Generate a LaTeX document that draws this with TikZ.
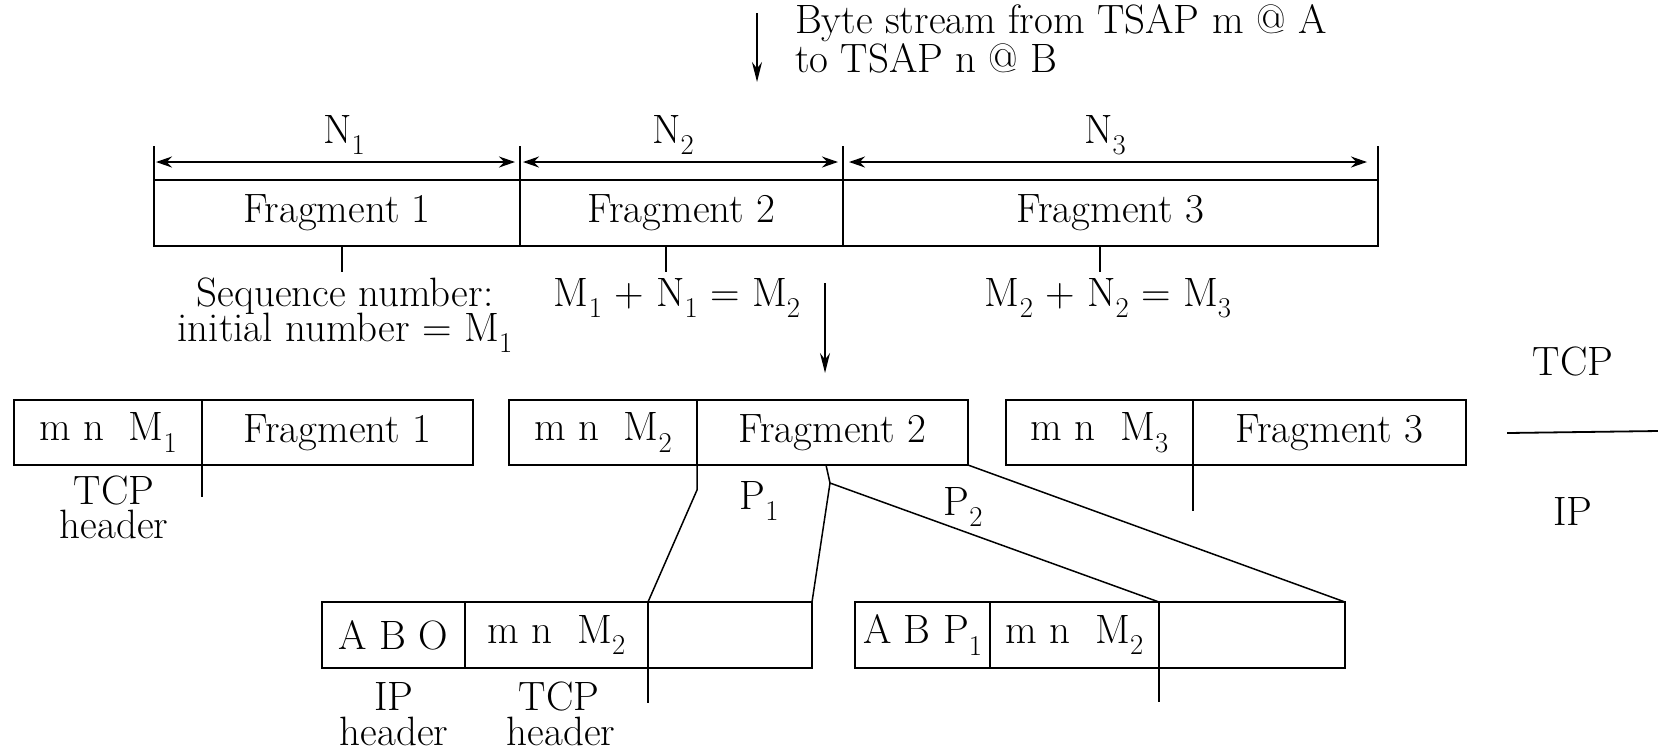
\documentclass[tikz,border=0pt]{standalone}
\usetikzlibrary{arrows.meta}
\newcommand{\lsub}[1]{\raisebox{-0.28em}{\scalebox{0.7}{#1}}}
\begin{document}
\begin{tikzpicture}[x=0.5pt,y=-0.5pt, font=\fontsize{20.5}{20.5}\selectfont,
 cell/.style={draw, line width=0.9pt, inner sep=0pt, outer sep=0pt, anchor=north west},
 txt/.style={inner sep=0pt, outer sep=0pt, anchor=base},
 ln/.style={line width=0.75pt},
 dim/.style={line width=0.9pt, {Stealth[length=8pt,width=5.5pt]}-{Stealth[length=8pt,width=5.5pt]}},
 flow/.style={line width=0.8pt, -{Stealth[length=10pt,width=5pt]}}]
\useasboundingbox (0,0) rectangle (1658,752);

% top stream arrow and text
\coordinate (s0) at (757,13);
\coordinate (s1) at (757,82);
\draw[flow] (s0) -- (s1);
\node[txt, anchor=base west] (bs1) at (795,33) {Byte stream from TSAP m @ A};
\node[txt, anchor=base west] (bs2) at (795,72) {to TSAP n @ B};

% top fragments
\node[cell, minimum width=183pt, minimum height=33pt] (f1) at (154,180) {Fragment 1};
\node[cell, minimum width=161.5pt, minimum height=33pt] (f2) at (520,180) {Fragment 2};
\node[cell, minimum width=267.5pt, minimum height=33pt] (f3) at (843,180) {Fragment 3};

% ticks above and dimension arrows
\coordinate (u0) at (154,146);
\coordinate (u1) at (520,146);
\coordinate (u2) at (843,146);
\coordinate (u3) at (1378,146);
\draw[ln] (f1.north west) -- (u0);
\draw[ln] (f2.north west) -- (u1);
\draw[ln] (f3.north west) -- (u2);
\draw[ln] (f3.north east) -- (u3);
\coordinate (d1a) at (156,162); \coordinate (d1b) at (515,162);
\coordinate (d2a) at (523,162); \coordinate (d2b) at (838,162);
\coordinate (d3a) at (849,162); \coordinate (d3b) at (1367,162);
\draw[dim] (d1a) -- (d1b);
\draw[dim] (d2a) -- (d2b);
\draw[dim] (d3a) -- (d3b);
\node[txt] (n1) at (344,143) {N\lsub{1}};
\node[txt] (n2) at (673,143) {N\lsub{2}};
\node[txt] (n3) at (1105,143) {N\lsub{3}};

% ticks below
\coordinate (b1) at (342,272);
\coordinate (b2) at (666,272);
\coordinate (b3) at (1100,272);
\draw[ln] (f1.south west -| b1) -- (b1);
\draw[ln] (f2.south west -| b2) -- (b2);
\draw[ln] (f3.south west -| b3) -- (b3);
\node[txt] (sq1) at (345,306) {Sequence number:};
\node[txt] (sq2) at (345,341) {initial number = M\lsub{1}};
\node[txt] (eq1) at (677,306) {M\lsub{1} + N\lsub{1} = M\lsub{2}};
\node[txt] (eq2) at (1108,306) {M\lsub{2} + N\lsub{2} = M\lsub{3}};

% middle arrow
\coordinate (m0) at (825,283);
\coordinate (m1) at (825,373);
\draw[flow] (m0) -- (m1);

% TCP / IP
\node[txt] (tcp) at (1573,375) {TCP};
\node[txt] (ip) at (1573,525) {IP};
\coordinate (l0) at (1507,433);
\coordinate (l1) at (1658,431);
\draw[line width=0.9pt] (l0) -- (l1);

% TCP segments
\node[cell, minimum width=94pt, minimum height=32.5pt] (h1) at (14,400) {m n~~M\lsub{1}};
\node[cell, minimum width=135.5pt, minimum height=32.5pt] (g1) at (202,400) {Fragment 1};
\node[cell, minimum width=94pt, minimum height=32.5pt] (h2) at (509,400) {m n~~M\lsub{2}};
\node[cell, minimum width=135.5pt, minimum height=32.5pt] (g2) at (697,400) {Fragment 2};
\node[cell, minimum width=93.5pt, minimum height=32.5pt] (h3) at (1006,400) {m n~~M\lsub{3}};
\node[cell, minimum width=136.5pt, minimum height=32.5pt] (g3) at (1193,400) {Fragment 3};

\coordinate (e1) at (202,497);
\coordinate (e3) at (1193,511);
\draw[ln] (g1.south west) -- (e1);
\draw[ln] (g3.south west) -- (e3);
\node[txt] (th1) at (114,504) {TCP};
\node[txt] (th2) at (114,538) {header};
\node[txt] (p1) at (759,509) {P\lsub{1}};
\node[txt] (p2) at (963,515) {P\lsub{2}};

% IP packets
\node[cell, minimum width=71.5pt, minimum height=33pt] (ipA) at (322,602) {A B O};
\node[cell, minimum width=91.5pt, minimum height=33pt] (tcpA) at (465,602) {m n~~M\lsub{2}};
\node[cell, minimum width=82pt, minimum height=33pt] (dataA) at (648,602) {};
\node[cell, minimum width=67.5pt, minimum height=33pt] (ipB) at (855,602) {A B P\lsub{1}};
\node[cell, minimum width=84.5pt, minimum height=33pt] (tcpB) at (990,602) {m n~~M\lsub{2}};
\node[cell, minimum width=93pt, minimum height=33pt] (dataB) at (1159,602) {};

% split lines
\coordinate (k1) at (697,490);
\coordinate (k2) at (826,465);
\coordinate (k3) at (830,483);
\draw[ln] (g2.south west) -- (k1) -- (tcpA.north east);
\draw[ln] (k2) -- (k3) -- (dataA.north east);
\draw[ln] (k3) -- (tcpB.north east);
\draw[ln] (g2.south east) -- (dataB.north east);

\coordinate (eA) at (648,703);
\coordinate (eB) at (1159,702);
\draw[ln] (tcpA.south east) -- (eA);
\draw[ln] (tcpB.south east) -- (eB);
\node[txt] (iph1) at (394,710) {IP};
\node[txt] (iph2) at (394,745) {header};
\node[txt] (tch1) at (559,710) {TCP};
\node[txt] (tch2) at (561,745) {header};
\end{tikzpicture}
\end{document}
